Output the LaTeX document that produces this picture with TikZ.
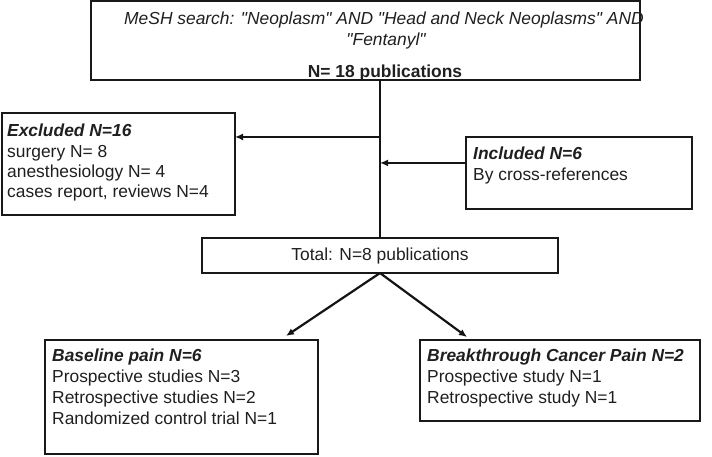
\documentclass[tikz,border=0pt]{standalone}
\usepackage{fontspec}
\setmainfont{Liberation Sans}[Ligatures=TeXOff]
\usetikzlibrary{arrows.meta,calc}
\begin{document}
\begin{tikzpicture}[x=1pt,y=-1pt,
  box/.style={draw=black!90, line width=1.7pt, inner sep=0pt, outer sep=0pt},
  txt/.style={anchor=base west, inner sep=0pt, font=\fontsize{17.4}{21}\selectfont, text=black!88},
  ctxt/.style={anchor=base, inner sep=0pt, font=\fontsize{17.4}{21}\selectfont, text=black!88},
  hd/.style={txt, font=\fontsize{17.4}{21}\selectfont\bfseries\itshape},
  link/.style={draw=black!92, line width=2.2pt},
  arr/.style={link, -{Latex[length=8pt,width=7pt]}}]
\useasboundingbox (0,0) rectangle (712,456);
% boxes
\node[box, minimum width=549pt, minimum height=79pt] (top) at (365.5,40.5) {};
\node[box, minimum width=233pt, minimum height=102pt] (ex) at (118.5,164) {};
\node[box, minimum width=226pt, minimum height=72pt] (inc) at (579,173) {};
\node[box, minimum width=356pt, minimum height=35pt, font=\fontsize{17.4}{21}\selectfont, text=black!88] (total) at (380,255.5) {Total: N=8 publications};
\node[box, minimum width=273pt, minimum height=114pt] (bl) at (181.5,397) {};
\node[box, minimum width=280pt, minimum height=81pt] (bt) at (560,380.5) {};
% top texts
\node[ctxt, font=\fontsize{17.4}{21}\selectfont\itshape] (t1) at (384,24) {MeSH search: "Neoplasm" AND "Head and Neck Neoplasms" AND};
\node[ctxt, font=\fontsize{17.4}{21}\selectfont\itshape] (t2) at (386,45) {"Fentanyl"};
\node[ctxt, font=\fontsize{17.4}{21}\selectfont\bfseries] (t3) at (385,77) {N= 18 publications};
% excluded
\node[hd] (ex0) at (7,136) {Excluded N=16};
\node[txt] (ex1) at (7,157) {surgery N= 8};
\node[txt] (ex2) at (7,177) {anesthesiology N= 4};
\node[txt] (ex3) at (7,197) {cases report, reviews N=4};
% included
\node[hd] (in0) at (473,159) {Included N=6};
\node[txt] (in1) at (473,180) {By cross-references};
% baseline
\node[hd] (bl0) at (52,361) {Baseline pain N=6};
\node[txt] (bl1) at (52,382) {Prospective studies N=3};
\node[txt] (bl2) at (52,403) {Retrospective studies N=2};
\node[txt] (bl3) at (52,424) {Randomized control trial N=1};
% breakthrough
\node[hd] (bt0) at (427,361) {Breakthrough Cancer Pain N=2};
\node[txt] (bt1) at (427,382) {Prospective study N=1};
\node[txt] (bt2) at (427,403) {Retrospective study N=1};
% connectors
\coordinate (exa) at ($(ex.north east)!0.235!(ex.south east)$);
\coordinate (ina) at ($(inc.north west)!0.36!(inc.south west)$);
\draw[link] (total.north |- top.south) -- (total.north);
\draw[arr] (total.north |- exa) -- (exa);
\draw[arr] (ina) -- (ina -| total.north);
\draw[arr] (total.south) -- ([xshift=-32pt,yshift=4pt]bl.north east);
\draw[arr] (total.south) -- ([xshift=47pt,yshift=3pt]bt.north west);
\end{tikzpicture}
\end{document}
